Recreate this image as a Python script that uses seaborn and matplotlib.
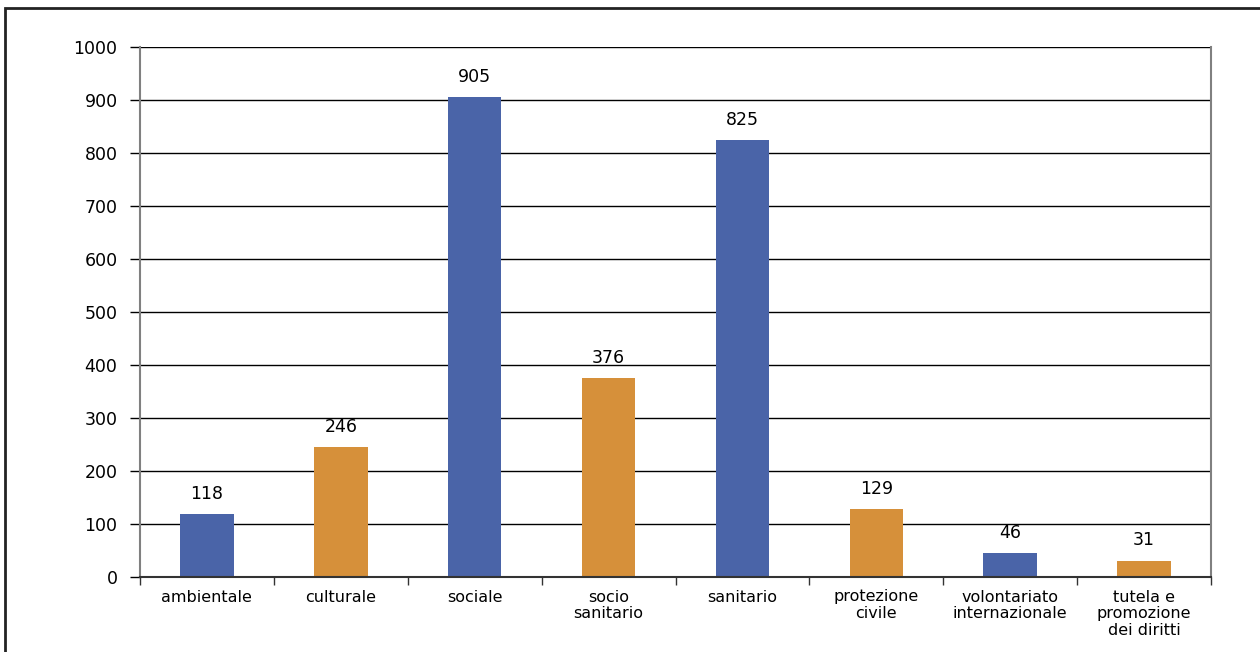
import matplotlib
matplotlib.use('Agg')
import matplotlib.pyplot as plt
import seaborn as sns
import pandas as pd
import numpy as np
from matplotlib.patches import Rectangle

categories = ["ambientale", "culturale", "sociale", "socio\nsanitario", "sanitario",
              "protezione\ncivile", "volontariato\ninternazionale", "tutela e\npromozione\ndei diritti"]
values = [118, 246, 905, 376, 825, 129, 46, 31]
bar_colors = ["#4a64a8", "#d6903a"] * 4
y_ticks = [0, 100, 200, 300, 400, 500, 600, 700, 800, 900, 1000]

df = pd.DataFrame({"categoria": categories, "valore": values})

sns.set_style("white")
plt.rcParams['font.family'] = ['DejaVu Sans']

fig = plt.figure(figsize=(12.6, 6.52), dpi=100)
ax = fig.add_axes([140 / 1260, 1 - 577 / 652, 1071 / 1260, 530 / 652])

sns.barplot(data=df, x="categoria", y="valore", hue="categoria",
            palette=bar_colors, legend=False, width=0.4, saturation=1,
            linewidth=0, ax=ax)

for c in ax.containers:
    ax.bar_label(c, fmt="%d", padding=8, fontsize=12.5, color="black")

ax.set_ylim(0, 1000)
ax.set_xlim(-0.5, len(categories) - 0.5)
ax.set_yticks(y_ticks)
ax.yaxis.grid(True, color="black", linewidth=1)
ax.set_axisbelow(True)
ax.tick_params(axis="y", left=True, length=7.2, width=1, color="black",
               labelsize=12.5, labelcolor="black", pad=9)
ax.tick_params(axis="x", length=0, labelsize=11.5, labelcolor="black", pad=9)
ax.set_xticks(np.arange(len(categories) + 1) - 0.5, minor=True)
ax.tick_params(axis="x", which="minor", bottom=True, length=6, width=1, color="#333333")
for lab in ax.get_xticklabels():
    lab.set_linespacing(1.15)
ax.set_xlabel("")
ax.set_ylabel("")

for side in ["left", "right", "bottom"]:
    ax.spines[side].set_color("#808080")
    ax.spines[side].set_linewidth(1.5)
ax.spines["bottom"].set_color("#333333")
ax.spines["top"].set_visible(False)

# cornice esterna
fig.patches.append(Rectangle((5 / 1260, -0.2), 1.2, 1.2 - 8 / 652,
                             transform=fig.transFigure, fill=False,
                             edgecolor="#222222", linewidth=2))

fig.savefig("out.png", dpi=100)
